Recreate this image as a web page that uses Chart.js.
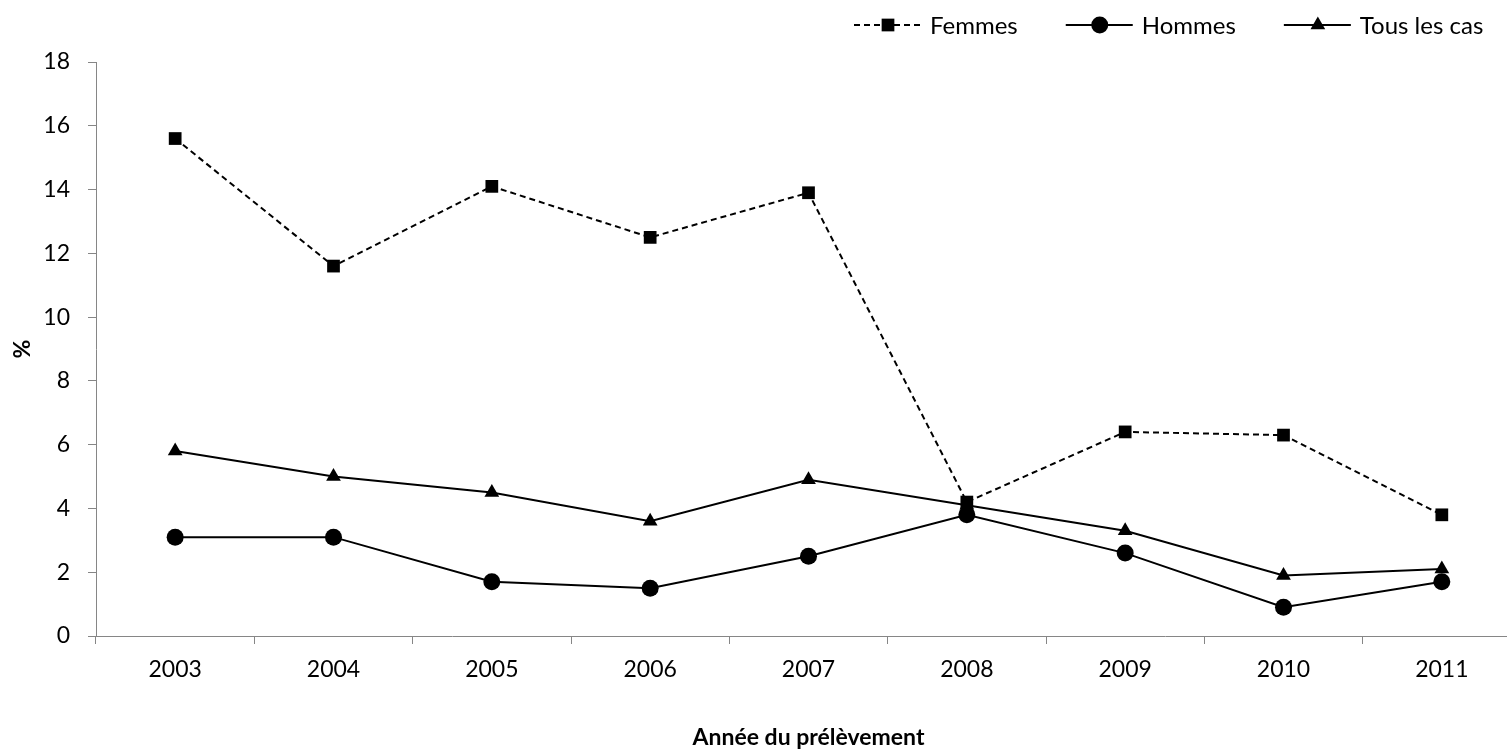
<!DOCTYPE html>
<html>
<head>
<meta charset="utf-8">
<script src="https://cdn.jsdelivr.net/npm/chart.js@4/dist/chart.umd.min.js"></script>
<style>
  html, body { margin: 0; padding: 0; background: #fff; overflow: hidden; }
  #wrap { width: 1530px; height: 749px; }
</style>
</head>
<body>
<div id="wrap"><canvas id="chart" width="1530" height="749"></canvas></div>
<script>
// data
const years = ['2003', '2004', '2005', '2006', '2007', '2008', '2009', '2010', '2011'];
const femmes = [15.6, 11.6, 14.1, 12.5, 13.9, 4.2, 6.4, 6.3, 3.8];
const hommes = [3.1, 3.1, 1.7, 1.5, 2.5, 3.8, 2.6, 0.9, 1.7];
const tousLesCas = [5.8, 5.0, 4.5, 3.6, 4.9, 4.1, 3.3, 1.9, 2.1];
const yTicks = [0, 2, 4, 6, 8, 10, 12, 14, 16, 18];

const FONT = 'Lato, "Open Sans", sans-serif';
const AXIS_GREY = '#868686';

// legend drawn by hand so each entry shows line + marker like the original
const lineLegend = {
    id: 'lineLegend',
    afterDraw(chart) {
        const ctx = chart.ctx;
        const y = 25;
        let x = 854;
        ctx.save();
        ctx.font = '24px ' + FONT;
        ctx.textBaseline = 'middle';
        ctx.fillStyle = '#000';
        chart.data.datasets.forEach(ds => {
            ctx.strokeStyle = '#000';
            ctx.lineWidth = ds.borderWidth;
            ctx.setLineDash(ds.borderDash || []);
            ctx.beginPath();
            ctx.moveTo(x, y);
            ctx.lineTo(x + 67, y);
            ctx.stroke();
            ctx.setLineDash([]);
            Chart.helpers.drawPoint(ctx, {
                pointStyle: ds.pointStyle,
                radius: ds.pointRadius,
                borderWidth: 0
            }, x + 34, y);
            ctx.fillStyle = '#000';
            ctx.fillText(ds.label, x + 76, y + 1);
            x += 76 + ctx.measureText(ds.label).width + 48;
        });
        ctx.restore();
    }
};

new Chart(document.getElementById('chart'), {
    type: 'line',
    data: {
        labels: years,
        datasets: [{
            label: 'Femmes',
            data: femmes,
            borderColor: '#000',
            backgroundColor: '#000',
            borderWidth: 2,
            borderDash: [6, 4],
            pointStyle: 'rect',
            pointRadius: 9,
            pointBorderWidth: 0
        }, {
            label: 'Hommes',
            data: hommes,
            borderColor: '#000',
            backgroundColor: '#000',
            borderWidth: 2,
            pointStyle: 'circle',
            pointRadius: 8.5,
            pointBorderWidth: 0
        }, {
            label: 'Tous les cas',
            data: tousLesCas,
            borderColor: '#000',
            backgroundColor: '#000',
            borderWidth: 2,
            pointStyle: 'triangle',
            pointRadius: 8.5,
            pointBorderWidth: 0
        }]
    },
    options: {
        responsive: false,
        animation: false,
        devicePixelRatio: 1,
        layout: { padding: { top: 62, right: 9, bottom: 0, left: 0 } },
        plugins: {
            legend: { display: false },
            tooltip: { enabled: false }
        },
        scales: {
            x: {
                type: 'category',
                offset: true,
                grid: {
                    offset: true,
                    drawOnChartArea: false,
                    drawTicks: true,
                    tickLength: 8,
                    color: AXIS_GREY,
                    lineWidth: 1
                },
                border: { color: AXIS_GREY, width: 1 },
                ticks: {
                    color: '#000',
                    padding: 12,
                    maxRotation: 0,
                    font: { family: FONT, size: 23 }
                },
                title: {
                    display: true,
                    text: 'Année du prélèvement',
                    color: '#000',
                    font: { family: FONT, size: 23, weight: 'bold', lineHeight: 1 },
                    padding: { top: 0, bottom: 0 }
                },
                afterFit(scale) { scale.height = 113; }
            },
            y: {
                min: 0,
                max: 18,
                afterBuildTicks(scale) {
                    scale.ticks = yTicks.map(v => ({ value: v }));
                },
                grid: {
                    drawOnChartArea: false,
                    drawTicks: true,
                    tickLength: 8,
                    color: AXIS_GREY,
                    lineWidth: 1
                },
                border: { color: AXIS_GREY, width: 1 },
                ticks: {
                    color: '#000',
                    padding: 18,
                    font: { family: FONT, size: 23 }
                },
                title: {
                    display: true,
                    text: '%',
                    color: '#000',
                    font: { family: FONT, size: 23, weight: 'bold', lineHeight: 1 },
                    padding: { top: 11, bottom: 0 }
                },
                afterFit(scale) { scale.width = 96; }
            }
        }
    },
    plugins: [lineLegend]
});
</script>
</body>
</html>
